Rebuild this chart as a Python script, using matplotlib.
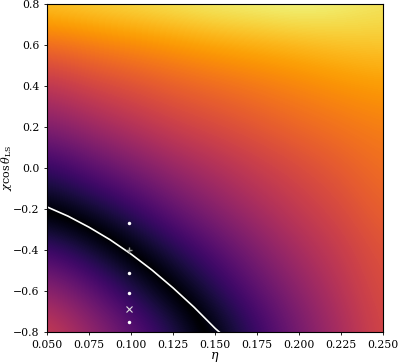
import numpy as np
import matplotlib
matplotlib.use("Agg")
import matplotlib.pyplot as plt
from matplotlib.colors import ListedColormap

plt.rcParams['font.family'] = 'DejaVu Serif'
plt.rcParams['mathtext.fontset'] = 'dejavuserif'

eta_grid = [0.05, 0.075, 0.1, 0.125, 0.15, 0.175, 0.2, 0.225, 0.25]
chi_grid = [-0.8, -0.6, -0.4, -0.2, 0.0, 0.2, 0.4, 0.6, 0.8]

# signed colour level (negative = below the white curve), one row per chi value
field_rows = [
    [-0.55, -0.42, -0.28, -0.14, 0.02, 0.17, 0.32, 0.45, 0.57],   # chi=-0.8
    [-0.40, -0.28, -0.14, -0.01, 0.13, 0.26, 0.38, 0.49, 0.59],   # chi=-0.6
    [-0.20, -0.10, 0.01, 0.13, 0.24, 0.35, 0.45, 0.53, 0.61],     # chi=-0.4
    [0.01, 0.08, 0.17, 0.28, 0.37, 0.45, 0.52, 0.58, 0.65],       # chi=-0.2
    [0.16, 0.25, 0.33, 0.41, 0.47, 0.53, 0.58, 0.63, 0.68],       # chi=0.0
    [0.35, 0.42, 0.48, 0.54, 0.58, 0.62, 0.66, 0.69, 0.72],       # chi=0.2
    [0.50, 0.56, 0.60, 0.64, 0.67, 0.70, 0.73, 0.76, 0.78],       # chi=0.4
    [0.67, 0.71, 0.74, 0.77, 0.80, 0.82, 0.84, 0.86, 0.87],       # chi=0.6
    [0.88, 0.90, 0.92, 0.94, 0.96, 0.97, 0.98, 0.96, 0.93],       # chi=0.8
]

# white curve
curve_eta = [0.05, 0.0625, 0.075, 0.0875, 0.1, 0.1125, 0.125, 0.1375, 0.15, 0.1525]
curve_chi = [-0.19, -0.235, -0.289, -0.35, -0.42, -0.498, -0.585, -0.679, -0.782, -0.80]

# markers
dot_eta = [0.099, 0.099, 0.099, 0.099]
dot_chi = [-0.27, -0.51, -0.61, -0.75]
plus_eta, plus_chi = [0.099], [-0.40]
cross_eta, cross_chi = [0.099], [-0.69]

Z = np.array(field_rows)
# inferno folded around zero so the valley along the curve is black
cmap = ListedColormap(plt.cm.inferno(np.abs(np.linspace(-1, 1, 511))))

fig = plt.figure(figsize=(3.99, 3.63), dpi=100)
ax = fig.add_axes([0.118, 0.0854, 0.842, 0.9036])

de = (eta_grid[1] - eta_grid[0]) / 2
dc = (chi_grid[1] - chi_grid[0]) / 2
ax.imshow(Z, origin='lower', aspect='auto', cmap=cmap, vmin=-1, vmax=1,
          interpolation='bicubic', interpolation_stage='data',
          extent=[eta_grid[0] - de, eta_grid[-1] + de, chi_grid[0] - dc, chi_grid[-1] + dc])

ax.plot(curve_eta, curve_chi, color='white', lw=1.2)
ax.plot(dot_eta, dot_chi, 'o', color='white', ms=2.5, mec='none')
ax.plot(plus_eta, plus_chi, '+', color='#999999', ms=5, mew=1)
ax.plot(cross_eta, cross_chi, 'x', color='#dddddd', ms=4, mew=0.8)

ax.set_xlim(0.05, 0.25)
ax.set_ylim(-0.8, 0.8)
ax.set_xticks([0.05, 0.075, 0.1, 0.125, 0.15, 0.175, 0.2, 0.225, 0.25])
ax.set_xticklabels(['0.050', '0.075', '0.100', '0.125', '0.150', '0.175', '0.200', '0.225', '0.250'])
ax.set_yticks([-0.8, -0.6, -0.4, -0.2, 0.0, 0.2, 0.4, 0.6, 0.8])
ax.tick_params(labelsize=7.8, length=2, width=0.6)
ax.set_xlabel(r'$\eta$', fontsize=9)
ax.set_ylabel(r'$\chi\cos\theta_{\rm LS}$', fontsize=8)
ax.xaxis.set_label_coords(0.5, -0.056)
ax.yaxis.set_label_coords(-0.097, 0.5)

fig.savefig('out.png', dpi=100)
